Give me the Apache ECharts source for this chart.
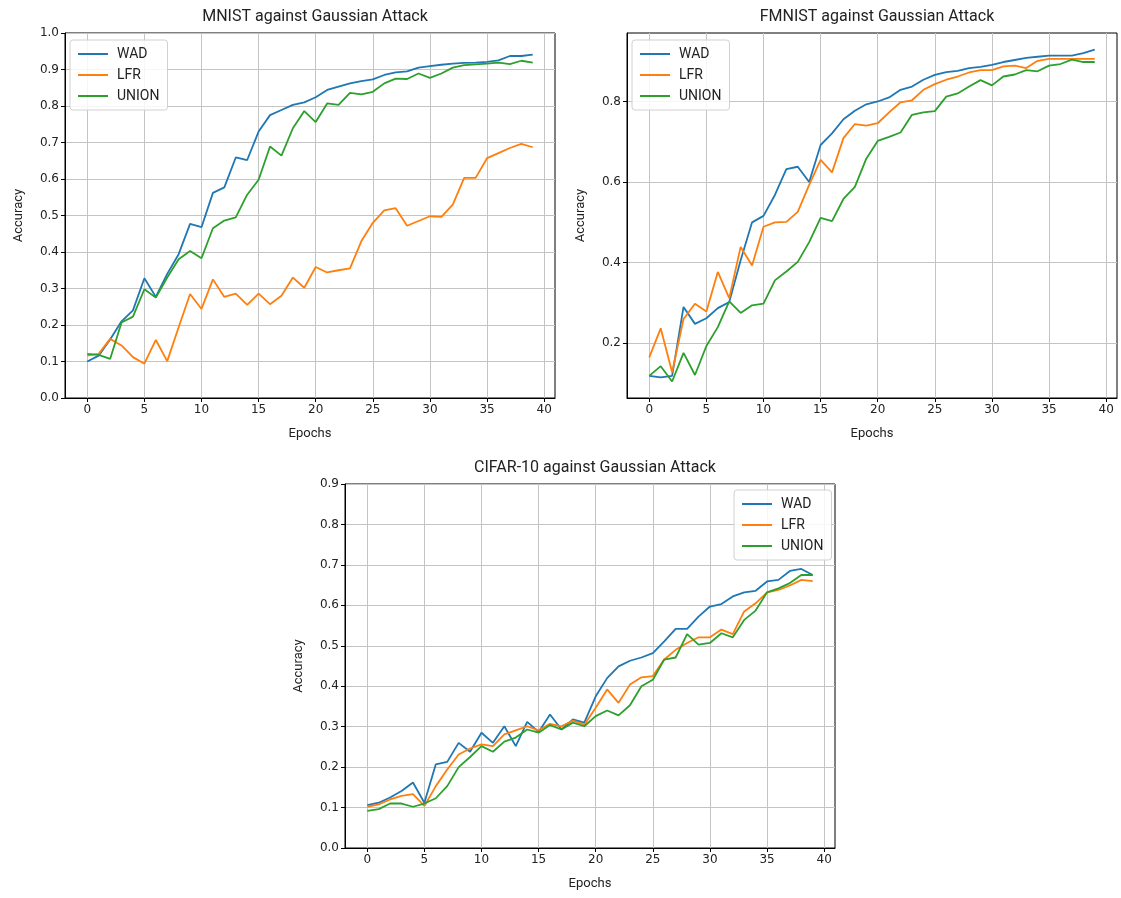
<!DOCTYPE html>
<html>
<head>
<meta charset="utf-8">
<script src="https://cdn.jsdelivr.net/npm/echarts@6/dist/echarts.min.js"></script>
<style>
  html, body { margin: 0; padding: 0; background: #fff; }
  #chart { width: 1121px; height: 898px; }
</style>
</head>
<body>
<div id="chart"></div>
<script>
// epochs 0..39
const epochs = Array.from({length: 40}, (_, i) => i);
const xTicks = [0, 5, 10, 15, 20, 25, 30, 35, 40];

// MNIST against Gaussian Attack
const mnistWAD = [0.100, 0.116, 0.160, 0.210, 0.240, 0.328, 0.277, 0.340, 0.394, 0.477,
  0.468, 0.562, 0.577, 0.659, 0.652, 0.730, 0.775, 0.789, 0.803, 0.810,
  0.824, 0.844, 0.853, 0.862, 0.868, 0.873, 0.885, 0.892, 0.895, 0.905,
  0.909, 0.913, 0.916, 0.918, 0.919, 0.921, 0.925, 0.937, 0.937, 0.941];
const mnistLFR = [0.116, 0.121, 0.162, 0.144, 0.112, 0.094, 0.159, 0.101, 0.194, 0.285,
  0.244, 0.325, 0.277, 0.286, 0.255, 0.286, 0.257, 0.280, 0.330, 0.302,
  0.359, 0.344, 0.350, 0.355, 0.430, 0.480, 0.514, 0.520, 0.472, 0.485,
  0.498, 0.496, 0.530, 0.603, 0.603, 0.657, 0.671, 0.685, 0.696, 0.687];
const mnistUNION = [0.121, 0.118, 0.107, 0.207, 0.223, 0.298, 0.275, 0.330, 0.380, 0.403,
  0.383, 0.465, 0.486, 0.495, 0.557, 0.598, 0.689, 0.664, 0.739, 0.786,
  0.756, 0.807, 0.803, 0.836, 0.832, 0.839, 0.862, 0.875, 0.874, 0.889,
  0.877, 0.889, 0.905, 0.912, 0.914, 0.916, 0.919, 0.915, 0.924, 0.919];
const mnistYTicks = [0, 0.1, 0.2, 0.3, 0.4, 0.5, 0.6, 0.7, 0.8, 0.9, 1.0];

// FMNIST against Gaussian Attack
const fmnistWAD = [0.119, 0.115, 0.119, 0.290, 0.248, 0.262, 0.287, 0.302, 0.406, 0.500,
  0.516, 0.568, 0.632, 0.638, 0.600, 0.692, 0.721, 0.756, 0.777, 0.793,
  0.800, 0.810, 0.829, 0.837, 0.854, 0.866, 0.873, 0.876, 0.883, 0.886,
  0.891, 0.898, 0.903, 0.908, 0.911, 0.914, 0.914, 0.914, 0.920, 0.929];
const fmnistLFR = [0.165, 0.237, 0.128, 0.260, 0.298, 0.279, 0.377, 0.312, 0.439, 0.393,
  0.489, 0.500, 0.501, 0.526, 0.593, 0.655, 0.624, 0.709, 0.744, 0.740,
  0.746, 0.773, 0.798, 0.803, 0.829, 0.843, 0.854, 0.862, 0.872, 0.878,
  0.878, 0.887, 0.889, 0.883, 0.901, 0.906, 0.906, 0.906, 0.906, 0.906];
const fmnistUNION = [0.119, 0.143, 0.105, 0.176, 0.121, 0.193, 0.240, 0.304, 0.275, 0.294,
  0.298, 0.356, 0.378, 0.402, 0.451, 0.511, 0.503, 0.558, 0.588, 0.658,
  0.702, 0.712, 0.723, 0.767, 0.773, 0.776, 0.812, 0.820, 0.837, 0.853,
  0.840, 0.862, 0.867, 0.878, 0.875, 0.889, 0.893, 0.904, 0.898, 0.898];
const fmnistYTicks = [0.2, 0.4, 0.6, 0.8];

// CIFAR-10 against Gaussian Attack
const cifarWAD = [0.106, 0.112, 0.125, 0.141, 0.162, 0.112, 0.207, 0.213, 0.260, 0.238,
  0.285, 0.260, 0.301, 0.252, 0.312, 0.287, 0.330, 0.293, 0.318, 0.310,
  0.375, 0.420, 0.449, 0.463, 0.471, 0.482, 0.511, 0.542, 0.542, 0.572,
  0.597, 0.603, 0.622, 0.632, 0.636, 0.659, 0.663, 0.685, 0.690, 0.675];
const cifarLFR = [0.102, 0.108, 0.120, 0.129, 0.133, 0.104, 0.153, 0.194, 0.231, 0.246,
  0.256, 0.252, 0.281, 0.291, 0.301, 0.291, 0.307, 0.301, 0.315, 0.305,
  0.347, 0.392, 0.359, 0.404, 0.422, 0.425, 0.466, 0.490, 0.507, 0.521,
  0.521, 0.540, 0.529, 0.585, 0.605, 0.632, 0.638, 0.649, 0.663, 0.660];
const cifarUNION = [0.092, 0.096, 0.110, 0.110, 0.102, 0.110, 0.123, 0.153, 0.200, 0.225,
  0.252, 0.238, 0.263, 0.273, 0.293, 0.285, 0.304, 0.293, 0.310, 0.301,
  0.326, 0.340, 0.328, 0.353, 0.400, 0.416, 0.466, 0.471, 0.529, 0.503,
  0.507, 0.531, 0.521, 0.564, 0.587, 0.632, 0.642, 0.655, 0.675, 0.675];
const cifarYTicks = [0, 0.1, 0.2, 0.3, 0.4, 0.5, 0.6, 0.7, 0.8, 0.9];

const names = ['WAD', 'LFR', 'UNION'];
const colors = ['#1f77b4', '#ff7f0e', '#2ca02c'];

const tickFont = {fontFamily: 'DejaVu Sans', fontSize: 12, color: '#222'};
const nameFont = {fontFamily: 'Roboto', fontSize: 13, color: '#222'};

const grids = [
  {left: 65, top: 33, width: 490, height: 365},
  {left: 627, top: 33, width: 490, height: 365},
  {left: 345, top: 484, width: 490, height: 364}
];

const titles = [
  {text: 'MNIST against Gaussian Attack', cx: 310, top: 4},
  {text: 'FMNIST against Gaussian Attack', cx: 872, top: 4},
  {text: 'CIFAR-10 against Gaussian Attack', cx: 590, top: 455}
];

const makeX = (i) => ({
  type: 'value',
  gridIndex: i,
  min: -1.95,
  max: 40.95,
  name: 'Epochs',
  nameLocation: 'middle',
  nameGap: 29,
  nameTextStyle: nameFont,
  axisLine: {show: true, onZero: false, lineStyle: {color: '#000', width: 1}},
  axisTick: {show: true, customValues: xTicks, length: 4, lineStyle: {color: '#000'}},
  axisLabel: {customValues: xTicks, margin: 6, ...tickFont, formatter: (v) => String(v)},
  splitLine: {show: true, lineStyle: {color: '#c4c4c4', width: 1}}
});

const makeY = (i, min, max, ticks) => ({
  type: 'value',
  gridIndex: i,
  min: min,
  max: max,
  name: 'Accuracy',
  nameLocation: 'middle',
  nameRotate: 90,
  nameGap: 40,
  nameTextStyle: nameFont,
  axisLine: {show: true, onZero: false, lineStyle: {color: '#000', width: 1}},
  axisTick: {show: true, customValues: ticks, length: 4, lineStyle: {color: '#000'}},
  axisLabel: {customValues: ticks, margin: 6, ...tickFont, formatter: (v) => v.toFixed(1)},
  splitLine: {show: true, lineStyle: {color: '#c4c4c4', width: 1}}
});

const allData = [
  [mnistWAD, mnistLFR, mnistUNION],
  [fmnistWAD, fmnistLFR, fmnistUNION],
  [cifarWAD, cifarLFR, cifarUNION]
];

const series = [];
allData.forEach((group, g) => {
  group.forEach((vals, k) => {
    series.push({
      name: names[k],
      type: 'line',
      xAxisIndex: g,
      yAxisIndex: g,
      data: vals.map((v, j) => [epochs[j], v]),
      symbol: 'none',
      lineStyle: {color: colors[k], width: 1.8},
      itemStyle: {color: colors[k]},
      animation: false
    });
  });
});

const legendBase = {
  data: names,
  orient: 'vertical',
  icon: 'rect',
  itemWidth: 30,
  itemHeight: 2,
  itemGap: 7,
  padding: [7, 8, 7, 8],
  backgroundColor: 'rgba(255,255,255,0.85)',
  borderColor: '#d0d0d0',
  borderWidth: 1,
  borderRadius: 3,
  textStyle: {fontFamily: 'Roboto', fontSize: 14, color: '#222', padding: [0, 0, 0, 4]}
};

const option = {
  backgroundColor: '#fff',
  animation: false,
  title: titles.map(t => ({
    text: t.text,
    left: t.cx,
    top: t.top,
    textAlign: 'center',
    textStyle: {fontFamily: 'Roboto', fontSize: 16, fontWeight: 'normal', color: '#222'}
  })),
  legend: [
    {...legendBase, left: 70, top: 40},
    {...legendBase, left: 632, top: 40},
    {...legendBase, left: 734, top: 490}
  ],
  grid: grids.map(g => ({...g, containLabel: false, show: true, borderColor: '#000', borderWidth: 1})),
  xAxis: [makeX(0), makeX(1), makeX(2)],
  yAxis: [
    makeY(0, 0, 1.0, mnistYTicks),
    makeY(1, 0.064, 0.970, fmnistYTicks),
    makeY(2, 0, 0.9, cifarYTicks)
  ],
  series: series
};

const chart = echarts.init(document.getElementById('chart'), null, {renderer: 'canvas'});
chart.setOption(option);
</script>
</body>
</html>
